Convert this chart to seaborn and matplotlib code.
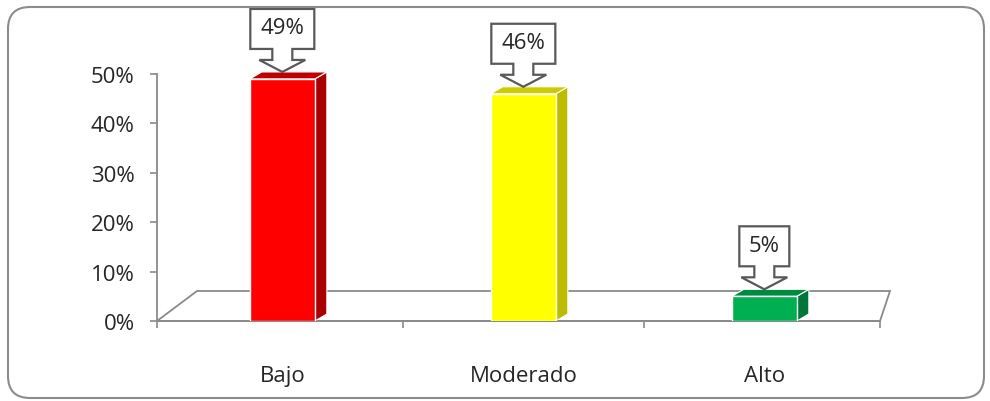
import matplotlib
matplotlib.use("Agg")
import matplotlib.pyplot as plt
import matplotlib.patches as mpatches
import matplotlib.transforms as mtransforms
import pandas as pd
import seaborn as sns

# Data
categories = ["Bajo", "Moderado", "Alto"]
values = [0.49, 0.46, 0.05]
value_labels = ["49%", "46%", "5%"]
front_colors = ["#FF0000", "#FFFF00", "#00B050"]
side_colors = ["#A80000", "#BDBD00", "#00763A"]
top_colors = ["#C00000", "#CCCC00", "#008A40"]
y_ticks = [0, 0.1, 0.2, 0.3, 0.4, 0.5]
y_tick_labels = ["0%", "10%", "20%", "30%", "40%", "50%"]

W, H = 990, 402
GRAY = "#8a8a8a"
TEXT = "#262626"

sns.set_theme(style="white")
plt.rcParams["font.family"] = ["Open Sans", "DejaVu Sans"]

fig = plt.figure(figsize=(W / 100, H / 100), dpi=100)
ax = fig.add_axes([157 / W, (H - 322) / H, 723 / W, 247 / H])

df = pd.DataFrame({"cat": categories, "val": values})
sns.barplot(data=df, x="cat", y="val", hue="cat", palette=front_colors,
            saturation=1, width=0.27, edgecolor="white", linewidth=1,
            legend=False, ax=ax, zorder=3)
ax.set_xlim(-0.52, 2.48)
ax.set_ylim(0, 0.5)
ax.set_xlabel("")
ax.set_ylabel("")


def off(x, y, dxp, dyp):
    px = ax.transData.transform((x, y))
    return tuple(ax.transData.inverted().transform((px[0] + dxp, px[1] + dyp)))


# Floor of the 3D box
floor = mpatches.Polygon([(-0.52, 0), (2.48, 0), off(2.48, 0, 10, 30),
                          off(-0.52, 0, 40, 30)], closed=True,
                         facecolor="white", edgecolor=GRAY, lw=1.3,
                         zorder=1, clip_on=False)
ax.add_patch(floor)

# Side and top faces of the bars, plus callouts
DX, DY = 12, 7
for i, p in enumerate(ax.patches[:len(values)]):
    x0 = p.get_x()
    x1 = x0 + p.get_width()
    h = p.get_height()
    side = mpatches.Polygon([(x1, 0), (x1, h), off(x1, h, DX, DY),
                             off(x1, 0, DX, DY)], closed=True,
                            facecolor=side_colors[i], edgecolor="white",
                            lw=0.8, zorder=2, clip_on=False)
    top = mpatches.Polygon([(x0, h), (x1, h), off(x1, h, DX, DY),
                            off(x0, h, DX, DY)], closed=True,
                           facecolor=top_colors[i], edgecolor="white",
                           lw=0.8, zorder=2, clip_on=False)
    ax.add_patch(side)
    ax.add_patch(top)

    cx = x0 + p.get_width() / 2
    bw = 32 if len(value_labels[i]) > 2 else 25
    verts = [(0, 0), (23, 12), (10, 12), (10, 23), (bw, 23), (bw, 63),
             (-bw, 63), (-bw, 23), (-10, 23), (-10, 12), (-23, 12)]
    verts = [(vx / 100, (vy + DY) / 100) for vx, vy in verts]
    tr = fig.dpi_scale_trans + mtransforms.ScaledTranslation(cx, h, ax.transData)
    callout = mpatches.Polygon(verts, closed=True, facecolor="white",
                               edgecolor="#595959", lw=1.6, transform=tr,
                               zorder=6, clip_on=False)
    ax.add_patch(callout)
    ax.annotate(value_labels[i], xy=(cx, h), xytext=(0, DY + 44),
                textcoords="offset pixels", ha="center", va="center",
                fontsize=16, color=TEXT, zorder=7, annotation_clip=False)

# Axes styling
ax.set_yticks(y_ticks, y_tick_labels)
ax.set_xticks(range(len(categories)), categories)
ax.set_xticks([-0.52, 0.5, 1.5, 2.48], minor=True)
ax.tick_params(axis="y", left=True, direction="out", length=5, width=1.2,
               color=GRAY, labelsize=16, labelcolor=TEXT, pad=11)
ax.tick_params(axis="x", which="major", bottom=False, labelsize=16,
               labelcolor=TEXT, pad=26)
ax.tick_params(axis="x", which="minor", bottom=True, direction="out",
               length=5, width=1.2, color=GRAY)
for name in ["top", "right"]:
    ax.spines[name].set_visible(False)
for name in ["left", "bottom"]:
    ax.spines[name].set_color(GRAY)
    ax.spines[name].set_linewidth(1.3)
ax.set_facecolor("none")

# Rounded chart border
border = mpatches.FancyBboxPatch((8, 3), 976, 391,
                                 boxstyle="round,pad=0,rounding_size=22",
                                 transform=mtransforms.IdentityTransform(),
                                 facecolor="none", edgecolor="#8c8c8c", lw=1.5)
fig.add_artist(border)

fig.savefig("out.png", dpi=100)
